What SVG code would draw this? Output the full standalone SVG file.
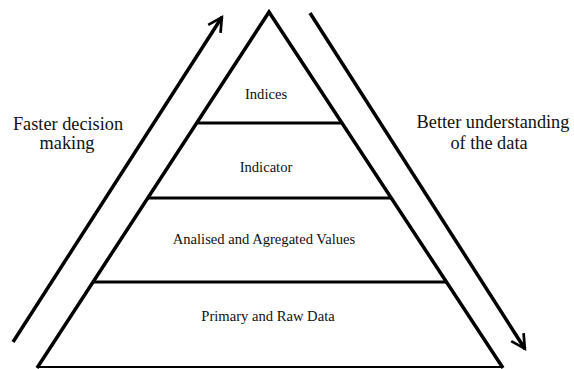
<svg xmlns="http://www.w3.org/2000/svg" width="574" height="369" viewBox="0 0 574 369">
  <style>
    .edge { stroke: #000; stroke-width: 3.5; fill: none; stroke-linecap: butt; }
    .tier { stroke: #000; stroke-width: 3; }
    text { font-family: 'Liberation Serif', 'Times New Roman', serif; fill: #111; text-anchor: middle; }
    .in { font-size: 14.6px; }
    .side { font-size: 18.3px; }
  </style>
  <defs>
    <marker id="head" viewBox="0 0 10 10" refX="8.2" refY="5" markerWidth="6" markerHeight="6" orient="auto" markerUnits="strokeWidth">
      <path d="M1.5,1.5 L8,5 L1.5,8.5" fill="none" stroke="#000" stroke-width="1.3" stroke-linejoin="miter"/>
    </marker>
  </defs>
  <rect width="574" height="369" fill="#fff"/>

  <!-- pyramid outline and tier dividers -->
  <g id="pyramid">
    <path class="edge" d="M37,368 L269,12 L503,368"/>
    <line x1="37" y1="367" x2="503" y2="367" stroke="#000" stroke-width="2"/>
    <line class="tier" x1="196" y1="123" x2="342" y2="123"/>
    <line class="tier" x1="147" y1="198" x2="391" y2="198"/>
    <line class="tier" x1="92" y1="282" x2="446" y2="282"/>
  </g>

  <!-- up and down arrows beside the pyramid -->
  <g id="connectors">
    <line class="edge" x1="13" y1="342" x2="222" y2="17" marker-end="url(#head)"/>
    <line class="edge" x1="310" y1="13" x2="525" y2="349" marker-end="url(#head)"/>
  </g>

  <g id="tier-indices"><text class="in" x="266" y="99">Indices</text></g>
  <g id="tier-indicator"><text class="in" x="266" y="172">Indicator</text></g>
  <g id="tier-values"><text class="in" x="264" y="244">Analised and Agregated Values</text></g>
  <g id="tier-raw"><text class="in" x="268" y="321">Primary and Raw Data</text></g>

  <g id="label-left">
    <text class="side" x="68" y="130">Faster decision</text>
    <text class="side" x="67" y="149">making</text>
  </g>
  <g id="label-right">
    <text class="side" x="493" y="128">Better understanding</text>
    <text class="side" x="489" y="149">of the data</text>
  </g>
</svg>
